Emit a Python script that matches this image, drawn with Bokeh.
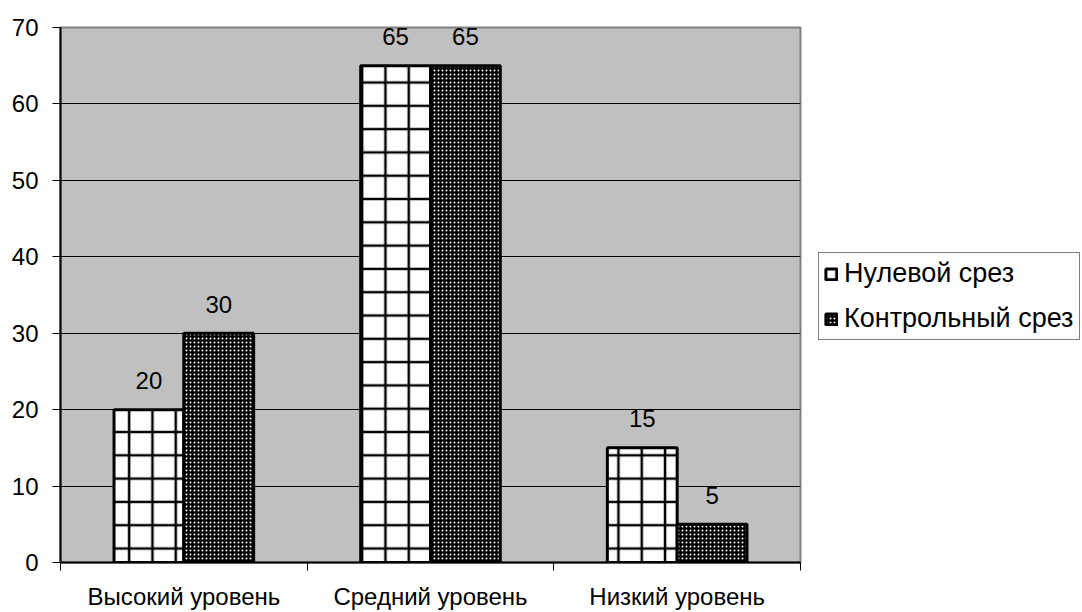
from bokeh.plotting import figure
from bokeh.layouts import row
from bokeh.models import (ColumnDataSource, Range1d, FixedTicker, Legend, LegendItem,
                          LabelSet)
from bokeh.core.properties import value
from bokeh.embed import file_html
from bokeh.resources import INLINE

categories = ["Высокий уровень", "Средний уровень", "Низкий уровень"]
series_names = ["Нулевой срез", "Контрольный срез"]
zero_cut = [20, 65, 15]
control_cut = [30, 65, 5]
y_ticks = [0, 10, 20, 30, 40, 50, 60, 70]

FONT = "Liberation Sans"
BAR_W = 0.283

style0 = dict(fill_color="white", line_color="black", line_width=3,
              hatch_pattern="cross", hatch_color="black", hatch_scale=23.3, hatch_weight=2.5)
style1 = dict(fill_color="black", line_color="black", line_width=3,
              hatch_pattern="dot", hatch_color="white", hatch_scale=4, hatch_weight=3)

centers = [i + 0.5 for i in range(len(categories))]
src0 = ColumnDataSource(dict(x=[c - BAR_W / 2 for c in centers], top=zero_cut,
                             lab=[str(v) for v in zero_cut]))
src1 = ColumnDataSource(dict(x=[c + BAR_W / 2 for c in centers], top=control_cut,
                             lab=[str(v) for v in control_cut]))

p = figure(frame_width=740, frame_height=535, output_backend="svg", toolbar_location=None,
           x_range=Range1d(0, len(categories)), y_range=Range1d(0, 70),
           min_border_left=60, min_border_top=27, min_border_right=2,
           min_border_bottom=50)

p.background_fill_color = "#C0C0C0"
p.border_fill_color = "white"
p.outline_line_color = "#808080"
p.outline_line_width = 2

r0 = p.vbar(x="x", top="top", width=BAR_W, bottom=0, source=src0, **style0)
r1 = p.vbar(x="x", top="top", width=BAR_W, bottom=0, source=src1, **style1)

for s in (src0, src1):
    lbl = LabelSet(x="x", y="top", text="lab", source=s, y_offset=29,
                   text_align="center", text_baseline="middle",
                   text_font=value(FONT), text_font_size="24px", text_color="black")
    p.add_layout(lbl)

# axes
p.xgrid.visible = False
p.ygrid.grid_line_color = "black"
p.ygrid.grid_line_width = 1
p.ygrid.ticker = FixedTicker(ticks=y_ticks)

p.yaxis.ticker = FixedTicker(ticks=y_ticks)
p.yaxis.axis_line_color = "black"
p.yaxis.axis_line_width = 2
p.yaxis.major_tick_out = 8
p.yaxis.major_tick_in = 0
p.yaxis.minor_tick_line_color = None
p.yaxis.major_label_standoff = 14
p.yaxis.major_label_text_font = FONT
p.yaxis.major_label_text_font_size = "24px"
p.yaxis.major_label_text_color = "black"

p.xaxis.ticker = FixedTicker(ticks=centers, minor_ticks=list(range(len(categories) + 1)))
p.xaxis.major_label_overrides = {c: name for c, name in zip(centers, categories)}
p.xaxis.axis_line_color = "black"
p.xaxis.axis_line_width = 2
p.xaxis.major_tick_line_color = None
p.xaxis.minor_tick_out = 8
p.xaxis.minor_tick_in = 0
p.xaxis.minor_tick_line_color = "black"
p.xaxis.major_label_standoff = 12
p.xaxis.major_label_text_font = FONT
p.xaxis.major_label_text_font_size = "24px"
p.xaxis.major_label_text_color = "black"

# legend panel: a separate figure beside the plot area; its renderers reuse the
# same data sources but are hidden (the legend still draws their swatches)
total_h = 27 + 535 + 50
pl = figure(width=280, height=total_h, output_backend="svg", toolbar_location=None,
            x_axis_type=None, y_axis_type=None, min_border=0,
            x_range=Range1d(100, 101), y_range=Range1d(0, 70))
pl.grid.visible = False
pl.outline_line_color = None
pl.background_fill_color = "white"
pl.border_fill_color = "white"
l0 = pl.vbar(x="x", top="top", width=BAR_W, bottom=0, source=src0, **style0)
l1 = pl.vbar(x="x", top="top", width=BAR_W, bottom=0, source=src1, **style1)
l0.visible = False
l1.visible = False

legend = Legend(items=[LegendItem(label=series_names[0], renderers=[l0], index=0),
                       LegendItem(label=series_names[1], renderers=[l1], index=0)],
                location=(16, 222), margin=0, padding=5, spacing=14,
                glyph_width=14, glyph_height=14, label_standoff=6,
                label_text_font=FONT, label_text_font_size="27px",
                label_text_color="black", border_line_color="black",
                border_line_width=1, background_fill_color="white",
                click_policy="none")
pl.add_layout(legend)

layout = row(p, pl, spacing=0)
open("out.html", "w").write(file_html(layout, INLINE))
